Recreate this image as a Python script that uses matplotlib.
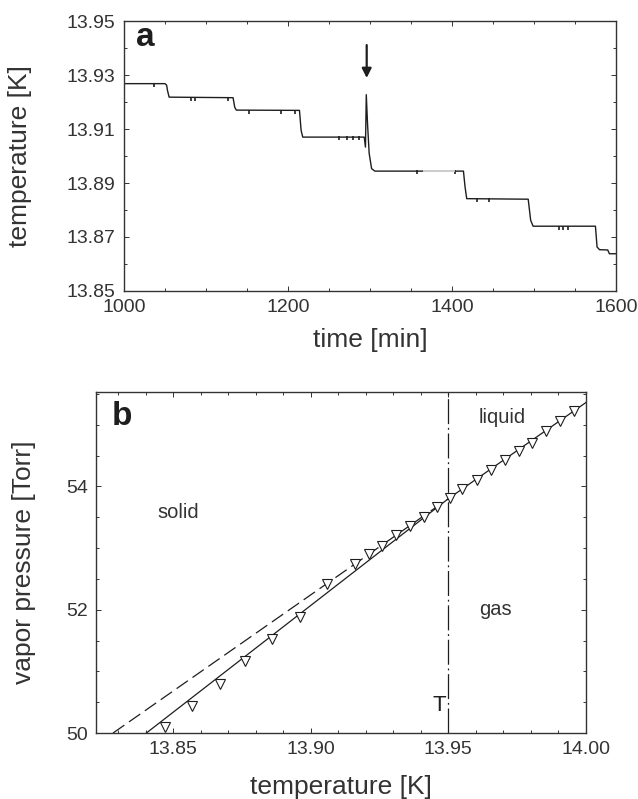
import matplotlib
matplotlib.use("Agg")
import matplotlib.pyplot as plt
from matplotlib.ticker import MultipleLocator, FixedLocator, FormatStrFormatter

plt.rcParams['font.family'] = ['Liberation Sans', 'DejaVu Sans']

# panel a: temperature steps vs time
time_min = [1000, 1050, 1052, 1053, 1055, 1133, 1135, 1137, 1214, 1216, 1218,
            1293, 1294.5, 1295.5, 1297, 1299, 1302, 1306, 1414, 1416, 1418,
            1493, 1496, 1499, 1575, 1577, 1580, 1590, 1592, 1600]
temp_k = [13.9268, 13.9268, 13.9262, 13.9243, 13.9218, 13.9216, 13.9181, 13.9170,
          13.9169, 13.9095, 13.9070, 13.9070, 13.9033, 13.9227, 13.9120, 13.9010,
          13.8953, 13.8944, 13.8944, 13.8885, 13.8842, 13.8840, 13.8762, 13.8740,
          13.8740, 13.8663, 13.8653, 13.8652, 13.8638, 13.8638]
# little glitches under the plateaus
glitch_t = [1037, 1082, 1087, 1127, 1153, 1192, 1208, 1262, 1272, 1279, 1287,
            1357, 1404, 1430, 1445, 1530, 1535, 1541]
glitch_k = [13.9262, 13.9211, 13.9211, 13.9211, 13.9164, 13.9164, 13.9164,
            13.9065, 13.9065, 13.9065, 13.9065, 13.8940, 13.8940, 13.8836,
            13.8836, 13.8734, 13.8734, 13.8734]
faint_t = [1366, 1402]
faint_k = [13.8944, 13.8944]
arrow_t = 1296
arrow_from = 13.9411
arrow_to = 13.9289
a_yticks = [13.85, 13.87, 13.89, 13.91, 13.93, 13.95]
a_xticks = [1000, 1200, 1400, 1600]

# panel b: vapor pressure vs temperature
pts_T = [13.847, 13.857, 13.867, 13.876, 13.886, 13.896, 13.906, 13.916, 13.921,
         13.926, 13.931, 13.936, 13.941, 13.946, 13.9505, 13.955, 13.9605, 13.9655,
         13.9705, 13.9755, 13.9805, 13.9855, 13.9905, 13.9955]
pts_P = [50.10, 50.44, 50.79, 51.16, 51.52, 51.88, 52.41, 52.74, 52.90, 53.04,
         53.21, 53.36, 53.51, 53.67, 53.81, 53.96, 54.11, 54.27, 54.42, 54.58,
         54.71, 54.90, 55.06, 55.22]
solid_fit_T = [13.8403, 13.95]
solid_fit_P = [50.0, 53.80]
liquid_fit_T = [13.95, 14.0]
liquid_fit_P = [53.80, 55.36]
extrap_T = [13.8282, 13.95]
extrap_P = [50.0, 53.80]
T_triple = 13.95
b_xticks = [13.85, 13.90, 13.95, 14.00]
b_yticks = [50, 52, 54]

ink = '#1e1e1e'
grey = '#333333'

fig = plt.figure(figsize=(6.38, 7.99), dpi=100)
ax1 = fig.add_axes([0.1944, 0.6358, 0.771, 0.3379])
ax2 = fig.add_axes([0.1505, 0.0826, 0.768, 0.4268])

# ---- a ----
ax1.plot(time_min, temp_k, color=ink, lw=1.0)
ax1.plot(glitch_t, glitch_k, ls='none', marker='|', ms=3, mew=1.2, color=ink)
ax1.plot(faint_t, faint_k, color='#cfcfcf', lw=1.4)
ax1.annotate('', xy=(arrow_t, arrow_to), xytext=(arrow_t, arrow_from),
             arrowprops=dict(arrowstyle='-|>', color=ink, lw=1.6,
                             mutation_scale=14, shrinkA=0, shrinkB=0))
ax1.set_xlim(1000, 1600)
ax1.set_ylim(13.85, 13.95)
ax1.xaxis.set_major_locator(FixedLocator(a_xticks))
ax1.xaxis.set_minor_locator(MultipleLocator(50))
ax1.yaxis.set_major_locator(FixedLocator(a_yticks))
ax1.yaxis.set_minor_locator(MultipleLocator(0.01))
ax1.yaxis.set_major_formatter(FormatStrFormatter('%.2f'))
ax1.set_xlabel('time [min]', fontsize=19, color=grey)
ax1.set_ylabel('temperature [K]', fontsize=19, color=grey)
ax1.xaxis.set_label_coords(0.5, -0.181)
ax1.xaxis.label.set_va('center')
ax1.yaxis.set_label_coords(-0.211, 0.5)
ax1.yaxis.label.set_va('center')
ax1.text(0.043, 0.94, 'a', transform=ax1.transAxes, fontsize=24,
         fontweight='bold', ha='center', va='center', color=ink)

# ---- b ----
ax2.plot(solid_fit_T, solid_fit_P, color=ink, lw=0.9)
ax2.plot(liquid_fit_T, liquid_fit_P, color=ink, lw=0.9)
ax2.plot(extrap_T, extrap_P, color=ink, lw=0.9, dashes=(11, 4.5))
ax2.axvline(T_triple, color=ink, lw=0.9, dashes=(20, 3, 1.5, 3))
ax2.plot(pts_T, pts_P, ls='none', marker='v', ms=6.5, mfc='white',
         mec=ink, mew=0.8)
ax2.text(13.8518, 53.57, 'solid', fontsize=14.5, ha='center', va='center', color=grey)
ax2.text(13.9696, 55.12, 'liquid', fontsize=14.5, ha='center', va='center', color=grey)
ax2.text(13.9672, 52.00, 'gas', fontsize=14.5, ha='center', va='center', color=grey)
ax2.text(13.9466, 50.45, 'T', fontsize=16, ha='center', va='center', color=ink)
ax2.set_xlim(13.822, 14.0)
ax2.set_ylim(50, 55.53)
ax2.xaxis.set_major_locator(FixedLocator(b_xticks))
ax2.xaxis.set_minor_locator(MultipleLocator(0.01))
ax2.xaxis.set_major_formatter(FormatStrFormatter('%.2f'))
ax2.yaxis.set_major_locator(FixedLocator(b_yticks))
ax2.yaxis.set_minor_locator(MultipleLocator(0.5))
ax2.set_xlabel('temperature [K]', fontsize=19, color=grey)
ax2.set_ylabel('vapor pressure [Torr]', fontsize=19, color=grey)
ax2.xaxis.set_label_coords(0.5, -0.158)
ax2.xaxis.label.set_va('center')
ax2.yaxis.set_label_coords(-0.147, 0.5)
ax2.yaxis.label.set_va('center')
ax2.text(0.053, 0.927, 'b', transform=ax2.transAxes, fontsize=24,
         fontweight='bold', ha='center', va='center', color=ink)

for ax in (ax1, ax2):
    for s in ax.spines.values():
        s.set_linewidth(1.0)
        s.set_color(grey)
    ax.tick_params(which='both', direction='in', top=True, right=True,
                   colors=grey, labelsize=14, width=0.7)
    ax.tick_params(which='major', length=3.5, pad=6)
    ax.tick_params(which='minor', length=2)

fig.savefig('out.png', dpi=100, facecolor='white')
